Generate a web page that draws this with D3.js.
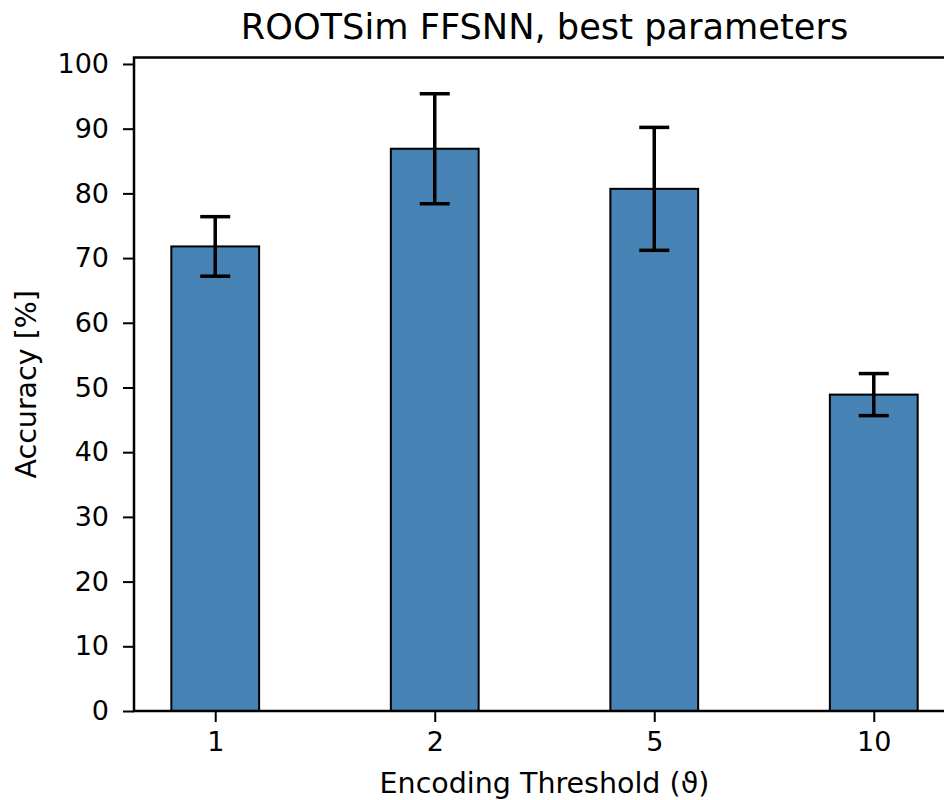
<!DOCTYPE html>
<html>
<head>
<meta charset="utf-8">
<script src="https://cdn.jsdelivr.net/npm/d3@7/dist/d3.min.js"></script>
<style>
  html, body { margin: 0; padding: 0; background: #fff; }
  svg { display: block; font-family: "DejaVu Sans", sans-serif; }
</style>
</head>
<body>
<svg id="chart" width="944" height="800"></svg>
<script>
// Accuracy per encoding threshold, mean and standard deviation
const thresholds = ["1", "2", "5", "10"];
const accuracy = [71.8, 86.9, 80.7, 48.9];
const accuracyErr = [4.6, 8.5, 9.5, 3.25];
const yTicks = [0, 10, 20, 30, 40, 50, 60, 70, 80, 90, 100];

const svg = d3.select("#chart");
const plot = { left: 134, right: 955, top: 57.5, bottom: 711 };

const x = d3.scaleLinear().domain([-0.37, thresholds.length - 1 + 0.37]).range([plot.left, plot.right]);
const y = d3.scaleLinear().domain([0, 101]).range([plot.bottom, plot.top]);
const barWidth = x(0.4) - x(0);

const g = svg.append("g");

// bars
g.selectAll("rect.bar")
  .data(accuracy)
  .enter().append("rect")
  .attr("class", "bar")
  .attr("x", (d, i) => x(i) - barWidth / 2)
  .attr("y", d => y(d))
  .attr("width", barWidth)
  .attr("height", d => y(0) - y(d))
  .attr("fill", "#4682b4")
  .attr("stroke", "#000")
  .attr("stroke-width", 2);

// error bars
const capHalf = 15;
const err = g.selectAll("g.err")
  .data(accuracy)
  .enter().append("g")
  .attr("class", "err")
  .attr("stroke", "#000")
  .attr("stroke-width", 3.5);
err.append("line")
  .attr("x1", (d, i) => x(i)).attr("x2", (d, i) => x(i))
  .attr("y1", (d, i) => y(d - accuracyErr[i]))
  .attr("y2", (d, i) => y(d + accuracyErr[i]));
err.append("line")
  .attr("x1", (d, i) => x(i) - capHalf).attr("x2", (d, i) => x(i) + capHalf)
  .attr("y1", (d, i) => y(d + accuracyErr[i]))
  .attr("y2", (d, i) => y(d + accuracyErr[i]));
err.append("line")
  .attr("x1", (d, i) => x(i) - capHalf).attr("x2", (d, i) => x(i) + capHalf)
  .attr("y1", (d, i) => y(d - accuracyErr[i]))
  .attr("y2", (d, i) => y(d - accuracyErr[i]));

// axes
const tickFont = 27;
const labelFont = 28.5;
const yAxis = d3.axisLeft(y).tickValues(yTicks).tickSize(11).tickPadding(14);
const yG = g.append("g").attr("transform", `translate(${plot.left},0)`).call(yAxis);
const xAxis = d3.axisBottom(x).tickValues(d3.range(thresholds.length))
  .tickFormat(i => thresholds[i]).tickSize(11).tickPadding(10);
const xG = g.append("g").attr("transform", `translate(0,${plot.bottom})`).call(xAxis);

[yG, xG].forEach(a => {
  a.select(".domain").remove();
  a.selectAll(".tick line").attr("stroke", "#000").attr("stroke-width", 2);
  a.selectAll(".tick text").attr("fill", "#000").style("font-size", tickFont + "px")
    .style("font-family", "DejaVu Sans, sans-serif");
});

// frame
g.append("rect")
  .attr("x", plot.left).attr("y", plot.top)
  .attr("width", plot.right - plot.left).attr("height", plot.bottom - plot.top)
  .attr("fill", "none").attr("stroke", "#000").attr("stroke-width", 2.5);

// titles
svg.append("text")
  .attr("x", (plot.left + plot.right) / 2).attr("y", 39)
  .attr("text-anchor", "middle").style("font-size", "35.2px").attr("fill", "#000")
  .text("ROOTSim FFSNN, best parameters");

svg.append("text")
  .attr("x", (plot.left + plot.right) / 2).attr("y", 793)
  .attr("text-anchor", "middle").style("font-size", labelFont + "px").attr("fill", "#000")
  .text("Encoding Threshold (ϑ)");

svg.append("text")
  .attr("transform", `translate(36,${(plot.top + plot.bottom) / 2}) rotate(-90)`)
  .attr("text-anchor", "middle").style("font-size", labelFont + "px").attr("fill", "#000")
  .text("Accuracy [%]");
</script>
</body>
</html>
